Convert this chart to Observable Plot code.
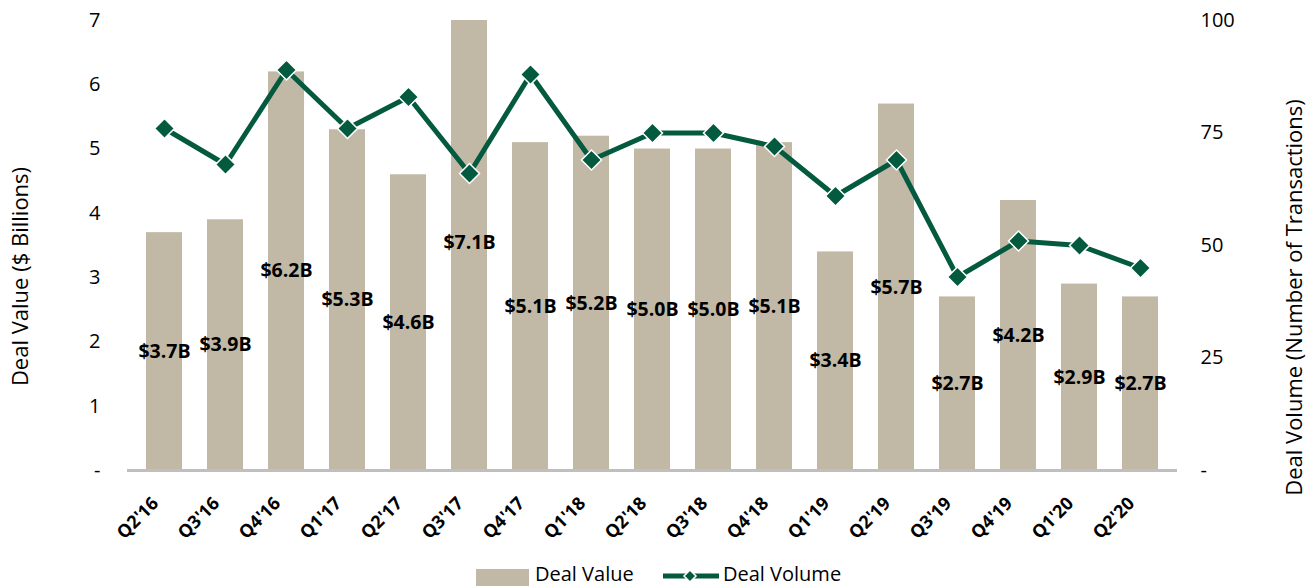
<!DOCTYPE html>
<html>
<head>
<meta charset="utf-8">
<script src="https://cdn.jsdelivr.net/npm/d3@7"></script>
<script src="https://cdn.jsdelivr.net/npm/@observablehq/plot@0.6"></script>
<style>
  html, body { margin: 0; padding: 0; background: #fff; }
  body { font-family: "Open Sans", sans-serif; }
  #wrap { position: relative; width: 1316px; height: 588px; overflow: hidden; background: #fff; }
  #chart { position: absolute; left: 0; top: 0; }
  #legend { position: absolute; left: 0; top: 564px; width: 1316px; height: 20px; font-size: 20px; line-height: 20px; color: #000; }
  .item { position: absolute; top: 0; display: flex; align-items: flex-start; height: 20px; white-space: nowrap; }
  .item span { line-height: 20px; }
  .sw-bar { width: 53px; height: 17px; background: #C1B8A5; margin-right: 6px; margin-top: 5px; }
</style>
</head>
<body>
<div id="wrap">
  <div id="chart"></div>
  <div id="legend"></div>
</div>
<script>
// ---- data ----
const quarters = ["Q2'16","Q3'16","Q4'16","Q1'17","Q2'17","Q3'17","Q4'17","Q1'18","Q2'18","Q3'18","Q4'18","Q1'19","Q2'19","Q3'19","Q4'19","Q1'20","Q2'20"];
const dealValue = [3.7, 3.9, 6.2, 5.3, 4.6, 7.1, 5.1, 5.2, 5.0, 5.0, 5.1, 3.4, 5.7, 2.7, 4.2, 2.9, 2.7];
const dealVolume = [76, 68, 89, 76, 83, 66, 88, 69, 75, 75, 72, 61, 69, 43, 51, 50, 45];
const leftTicks = [0, 1, 2, 3, 4, 5, 6, 7];
const rightTicks = [0, 25, 50, 75, 100];
const leftTitle = "Deal Value ($ Billions)";
const rightTitle = "Deal Volume (Number of Transactions)";
const seriesNames = ["Deal Value", "Deal Volume"];

const VALUE_MAX = 7, VOLUME_MAX = 100;
const toLeft = v => v * VALUE_MAX / VOLUME_MAX;
const BAR = "#C1B8A5", LINE = "#045A3F";

const rows = quarters.map((q, i) => ({
  q, value: dealValue[i], volume: dealVolume[i], label: `$${dealValue[i].toFixed(1)}B`
}));

const chart = Plot.plot({
  width: 1316,
  height: 564,
  marginTop: 20,
  marginBottom: 94,
  marginLeft: 127,
  marginRight: 139,
  style: { fontFamily: '"Open Sans", sans-serif', fontSize: "20px", color: "#000", background: "#fff", overflow: "visible" },
  x: { domain: quarters, paddingInner: 0.417, paddingOuter: 0.21, label: null },
  y: { domain: [0, VALUE_MAX], label: null },
  marks: [
    Plot.barY(rows, { x: "q", y: "value", fill: BAR, clip: true }),
    Plot.ruleY([0], { stroke: "#BFBFBF", strokeWidth: 3 }),
    Plot.text(rows, { x: "q", y: d => d.value / 2, text: "label", fontWeight: "bold", fontSize: 19.5, fill: "#000" }),
    Plot.line(rows, { x: "q", y: d => toLeft(d.volume), stroke: LINE, strokeWidth: 5 }),
    Plot.dot(rows, { x: "q", y: d => toLeft(d.volume), symbol: "diamond2", r: 9, fill: LINE, stroke: "#fff", strokeWidth: 1.5 }),
    Plot.axisY(leftTicks, { anchor: "left", tickSize: 0, tickPadding: 27, fontSize: 20, tickFormat: d => d === 0 ? "-" : String(d), label: null }),
    Plot.axisY(rightTicks.map(toLeft), { anchor: "right", tickSize: 0, tickPadding: 23, fontSize: 20,
      tickFormat: d => { const v = Math.round(d * VOLUME_MAX / VALUE_MAX); return v === 0 ? "-" : String(v); }, label: null }),
    Plot.axisX({ tickSize: 0, tickRotate: -45, tickPadding: 30, dx: -9, fontWeight: "bold", fontSize: 18, label: null }),
    Plot.text([leftTitle], { frameAnchor: "left", textAnchor: "middle", text: d => d, rotate: -90, dx: -107, dy: 31, fontSize: 22, fill: "#000" }),
    Plot.text([rightTitle], { frameAnchor: "right", textAnchor: "middle", text: d => d, rotate: -90, dx: 117, dy: 52, fontSize: 22, fill: "#000" })
  ]
});
document.getElementById("chart").appendChild(chart);

// legend
const legend = document.getElementById("legend");
const it1 = document.createElement("div");
it1.className = "item"; it1.style.left = "476px";
it1.innerHTML = `<div class="sw-bar"></div><span>${seriesNames[0]}</span>`;
legend.appendChild(it1);
const it2 = document.createElement("div");
it2.className = "item"; it2.style.left = "662px";
it2.innerHTML = `<svg width="58" height="20" style="margin-right:3px"><line x1="1" x2="57" y1="12" y2="12" stroke="${LINE}" stroke-width="5"/><path d="M28,6 L34,12 L28,18 L22,12 Z" fill="${LINE}" stroke="#fff" stroke-width="1.5"/></svg><span>${seriesNames[1]}</span>`;
legend.appendChild(it2);
</script>
</body>
</html>
